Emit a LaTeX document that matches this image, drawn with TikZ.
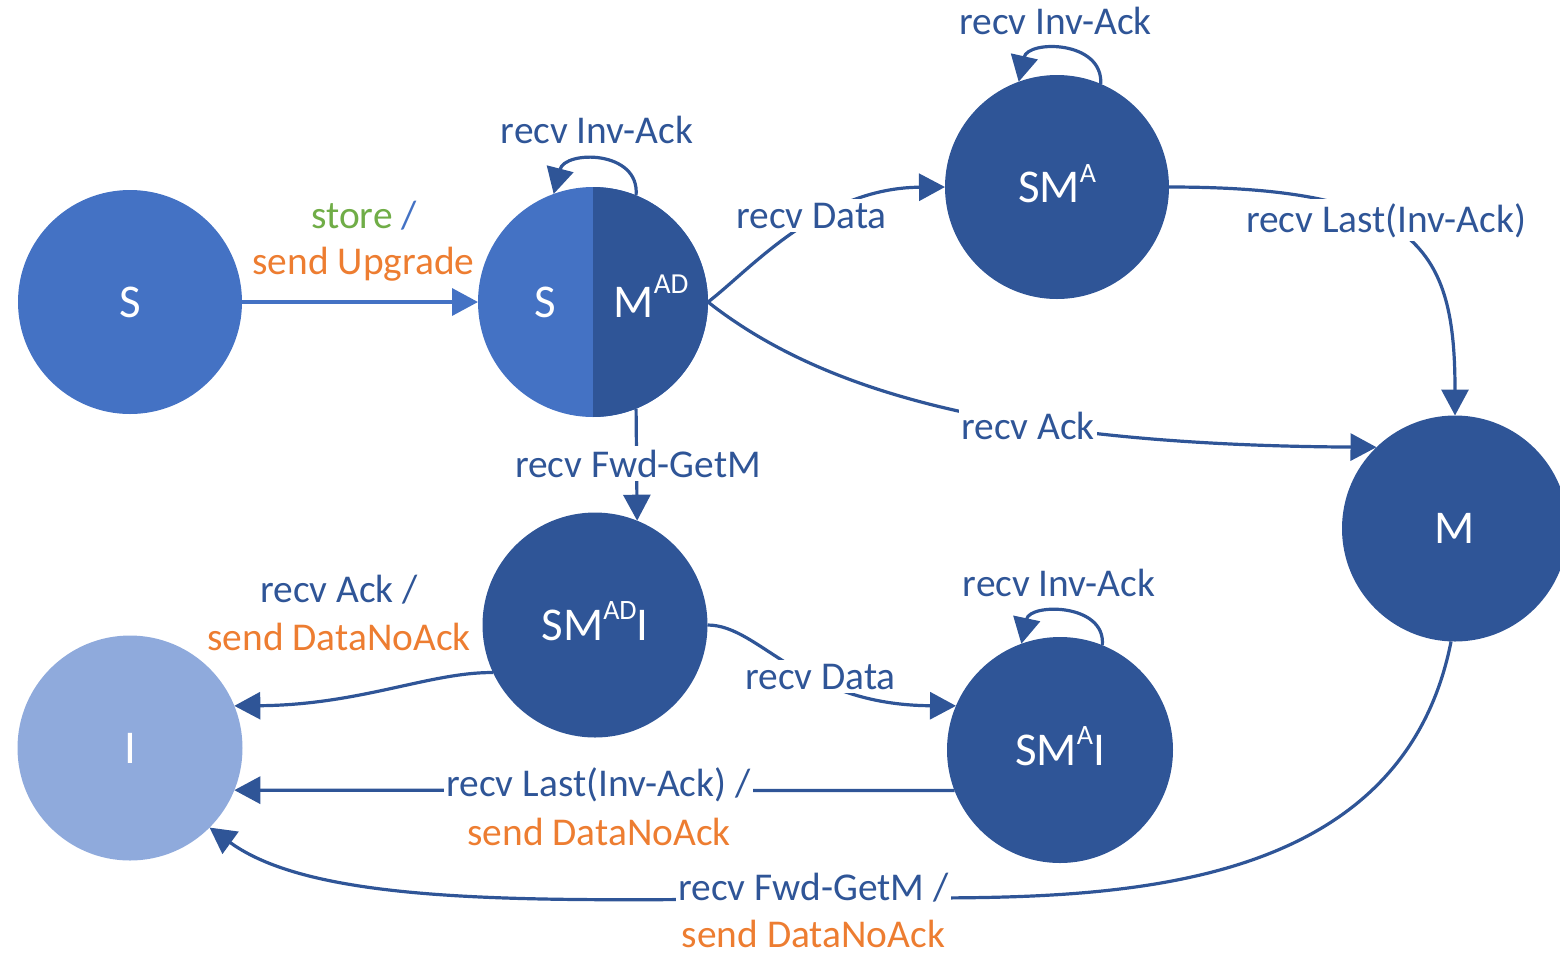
\documentclass[tikz,border=0pt]{standalone}
\usepackage{fontspec}
\setmainfont{Carlito}
\usetikzlibrary{arrows.meta}
\definecolor{stS}{HTML}{4472C4}
\definecolor{stDark}{HTML}{2F5597}
\definecolor{stI}{HTML}{8FAADC}
\definecolor{txtGreen}{HTML}{70AD47}
\definecolor{txtOrange}{HTML}{ED7D31}
% superscript of a state name: size, raise, text
\newcommand\stsup[3]{\raisebox{#2}{\fontsize{#1}{#1}\selectfont #3}}
\begin{document}
\begin{tikzpicture}[x=0.5pt,y=-0.5pt,
  state/.style={circle, inner sep=0pt, outer sep=0pt, text=white,
    text height=15pt, text depth=0pt, font=\fontsize{23.5}{28}\selectfont},
  edge/.style={draw=stDark, line width=1.6pt, -{Triangle[length=13pt,width=13.5pt]}},
  lbl/.style={text=stDark, font=\fontsize{19.7}{23}\selectfont,
    inner xsep=1pt, inner ysep=2pt, anchor=base},
  cut/.style={fill=white},
  act/.style={text=txtOrange}]
\useasboundingbox (0,0) rectangle (1560,955);
\clip (0,0) rectangle (1560,955);

% states
\node[state, fill=stS, minimum size=112pt] (s) at (130,302) {S};
\node[state, fill=stS, minimum size=115pt,
  path picture={\fill[stDark] (path picture bounding box.north)
    rectangle (path picture bounding box.south east);}] (smad) at (593,302) {};
\node[state] (smadS) at (545,302) {S};
\node[state] (smadM) at (651,302) {M\stsup{14.5pt}{12pt}{AD}};
\node[state, fill=stDark, minimum size=112pt] (sma) at (1057,187) {SM\stsup{14pt}{10pt}{A}};
\node[state, fill=stDark, minimum size=113pt] (m) at (1455,528.5) {M};
\node[state, fill=stDark, minimum size=112.5pt] (smadi) at (595,625) {SM\stsup{14pt}{10.5pt}{AD}I};
\node[state, fill=stI, minimum size=112.5pt] (i) at (130,748) {I};
\node[state, fill=stDark, minimum size=113pt] (smai) at (1060,750) {SM\stsup{14pt}{10.5pt}{A}I};

% transitions
\draw[edge, draw=stS, line width=1.8pt] (s) -- (smad);
\draw[edge] (smad.68) .. controls (640,150) and (565,150) .. (smad.110);
\draw[edge] (sma.67) .. controls (1103,40) and (1028,40) .. (sma.110);
\draw[edge] (smai.68) .. controls (1106,603) and (1030,603) .. (smai.110);
\draw[edge] (smad.east) .. controls (750,270) and (820,188) .. (sma.west);
\draw[edge] (smad.east) .. controls (820,390) and (1000,445) .. (m.134);
\draw[edge] (sma.east) .. controls (1420,187) and (1455,250) .. (m.north);
\draw[edge] (smad.-68) -- (smadi.68);
\draw[edge] (smadi.205) .. controls (430,672) and (360,705) .. (i.22);
\draw[edge] (smadi.east) .. controls (760,625) and (800,705) .. (smai.157);
\draw[edge] (smai.201) -- (i.338);
\coordinate (mfwd) at (900,898);
\draw[edge] (m.268) .. controls (1400,900) and (1100,898) .. (mfwd)
  .. controls (600,898) and (330,915) .. (i.315);

% transition labels
\node[lbl] (l1a) at (364,228) {\textcolor{txtGreen}{store} \textcolor{stS}{/}};
\node[lbl, act] (l1b) at (363.5,274) {send Upgrade};
\node[lbl] (l2) at (597,143) {recv Inv-Ack};
\node[lbl, cut] (l3) at (811.5,228) {recv Data};
\node[lbl] (l4) at (1055.5,34) {recv Inv-Ack};
\node[lbl, cut] (l5) at (1386,232) {recv Last(Inv-Ack)};
\node[lbl, cut] (l6) at (1028,439) {recv Ack};
\node[lbl, cut] (l7) at (638,477) {recv Fwd-GetM};
\node[lbl] (l8a) at (339,602) {recv Ack /};
\node[lbl, act] (l8b) at (339,650) {send DataNoAck};
\node[lbl] (l9) at (1059,596) {recv Inv-Ack};
\node[lbl, cut] (l10) at (820.5,689) {recv Data};
\node[lbl, cut] (l11a) at (598.5,796) {recv Last(Inv-Ack) /};
\node[lbl, act] (l11b) at (599,845) {send DataNoAck};
\node[lbl, cut] (l12a) at (813.5,900) {recv Fwd-GetM /};
\node[lbl, act] (l12b) at (813.5,947) {send DataNoAck};
\end{tikzpicture}
\end{document}
